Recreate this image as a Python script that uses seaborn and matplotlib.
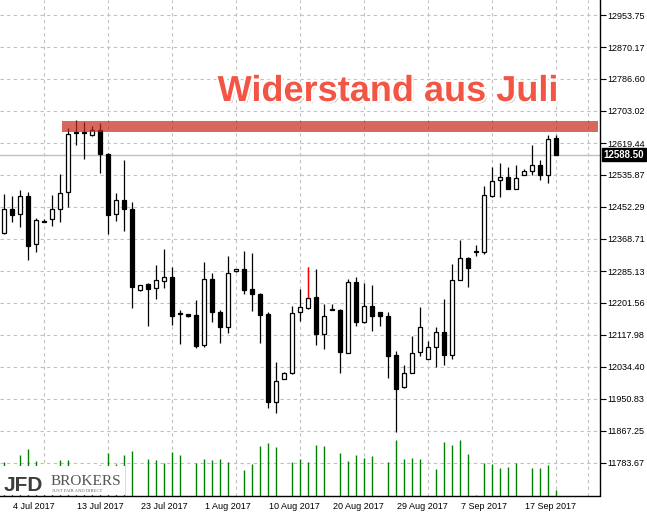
import matplotlib
matplotlib.use('Agg')
import matplotlib.pyplot as plt
import matplotlib.patheffects as pe
from matplotlib.patches import Rectangle
from matplotlib.lines import Line2D
from matplotlib.transforms import blended_transform_factory, ScaledTranslation
import seaborn as sns
import numpy as np

# daily candles 3 Jul - 21 Sep 2017, broker feed with Sunday bars
opens = [12385, 12446, 12433, 12480, 12355, 12417, 12420, 12446, 12491, 12647,
         12647, 12640, 12653, 12591, 12433, 12470, 12446, 12235, 12251, 12240,
         12260, 12269, 12175, 12173, 12170, 12091, 12263, 12178, 12138, 12284,
         12290, 12237, 12224, 12172, 11944, 12002, 12018, 12177, 12189, 12216,
         12121, 12186, 12183, 12072, 12256, 12153, 12193, 12177, 12167, 12066,
         11981, 12018, 12073, 12055, 12087, 12126, 12067, 12262, 12318, 12337,
         12336, 12482, 12522, 12530, 12500, 12535, 12547, 12562, 12535, 12632]
highs = [12486, 12481, 12496, 12491, 12423, 12420, 12484, 12539, 12658, 12679,
         12674, 12665, 12671, 12593, 12488, 12575, 12465, 12249, 12254, 12301,
         12343, 12296, 12183, 12174, 12209, 12309, 12280, 12183, 12324, 12290,
         12337, 12331, 12227, 12178, 12047, 12021, 12194, 12238, 12296, 12290,
         12198, 12198, 12186, 12264, 12269, 12254, 12248, 12178, 12177, 12076,
         12039, 12115, 12191, 12102, 12139, 12212, 12303, 12367, 12323, 12353,
         12507, 12557, 12567, 12557, 12562, 12551, 12615, 12575, 12640, 12640]
lows = [12383, 12414, 12401, 12315, 12336, 12413, 12403, 12414, 12453, 12614,
        12577, 12639, 12540, 12383, 12417, 12390, 12189, 12234, 12142, 12211,
        12242, 12145, 12095, 12164, 12085, 12086, 12153, 12098, 12124, 12283,
        12224, 12181, 12098, 11928, 11915, 12002, 12016, 12155, 12185, 12092,
        12081, 12182, 12020, 12071, 12142, 12149, 12128, 12142, 12006, 11865,
        11979, 12018, 12064, 12054, 12035, 12040, 12054, 12262, 12244, 12324,
        12330, 12479, 12479, 12498, 12500, 12535, 12535, 12524, 12516, 12587]
closes = [12446, 12432, 12481, 12351, 12418, 12414, 12446, 12488, 12642, 12645,
          12645, 12653, 12592, 12432, 12470, 12448, 12244, 12248, 12239, 12262,
          12269, 12168, 12172, 12168, 12090, 12263, 12177, 12140, 12279, 12290,
          12236, 12224, 12171, 11944, 11997, 12018, 12175, 12190, 12214, 12121,
          12167, 12183, 12074, 12256, 12153, 12193, 12168, 12168, 12064, 11978,
          12018, 12070, 12138, 12086, 12126, 12067, 12261, 12318, 12294, 12334,
          12483, 12519, 12530, 12500, 12527, 12546, 12561, 12537, 12629, 12588.5]
volumes = [34, 28, 41, 47, 35, 2, 27, 36, 36, 29,
           26, 3, 31, 43, 32, 41, 45, 0, 37, 36,
           33, 44, 41, 0, 33, 37, 36, 37, 34, 0,
           26, 32, 50, 53, 49, 0, 34, 37, 34, 51,
           50, 0, 43, 35, 41, 38, 40, 0, 34, 56,
           37, 38, 37, 0, 27, 54, 51, 56, 42, 1,
           33, 32, 28, 29, 33, 0, 28, 28, 31, 6]

date_idx = [1, 9, 17, 25, 33, 41, 49, 57, 65]
date_labels = ['4 Jul 2017', '13 Jul 2017', '23 Jul 2017', '1 Aug 2017', '10 Aug 2017',
               '20 Aug 2017', '29 Aug 2017', '7 Sep 2017', '17 Sep 2017']
price_ticks = [12953.75, 12870.17, 12786.60, 12703.02, 12619.44, 12535.87, 12452.29,
               12368.71, 12285.13, 12201.56, 12117.98, 12034.40, 11950.83, 11867.25, 11783.67]
last_price = 12588.50
resist_low, resist_high = 12647, 12678
resist_start = 7.25
resist_label = 'Widerstand aus Juli'
red_wick_idx = 38

sns.set_theme(style='white')
plt.rcParams['font.family'] = ['Liberation Sans', 'DejaVu Sans']

fig = plt.figure(figsize=(6.47, 5.17), dpi=100)
ax = fig.add_axes([0, 21.5 / 517, 600 / 647, 495.5 / 517])
ax2 = ax.twinx()  # volume overlay
ax.set_xlim(-0.5, 74.5)
ax.set_ylim(11698.78, 12992.93)

x = np.arange(len(opens))
o = np.array(opens, dtype=float)
c = np.array(closes, dtype=float)
up = c >= o
body_lo = np.minimum(o, c)
body_h = np.maximum(np.abs(c - o), 0.5)

# grid
grid_kw = dict(color='#c0c0c0', linestyle=(0, (3, 3)), linewidth=0.8)
ax.set_xticks(np.arange(1, 75, 4), minor=True)
ax.grid(which='minor', axis='x', **grid_kw)
ax.set_yticks(price_ticks)
ax.grid(which='major', axis='y', **grid_kw)
ax.set_axisbelow(True)

ax.axhline(last_price, color='#c0c0c0', lw=1, zorder=1)

# candles
ax.vlines(x, lows, highs, color='black', lw=0.9, zorder=3)
ax.vlines(red_wick_idx, max(o[red_wick_idx], c[red_wick_idx]), highs[red_wick_idx],
          color='red', lw=0.9, zorder=3.5)
ax.bar(x[up], body_h[up], bottom=body_lo[up], width=0.55, color='white',
       edgecolor='black', linewidth=0.9, zorder=4)
ax.bar(x[~up], body_h[~up], bottom=body_lo[~up], width=0.55, color='black',
       edgecolor='black', linewidth=0.9, zorder=4)

# resistance band + label
ax.fill_between([resist_start, 74.25], resist_low, resist_high, color='#c8261a',
                alpha=0.7, lw=0, zorder=5)
ax.text(48, 12754, resist_label, ha='center', va='center', fontsize=26,
        fontweight='bold', color='#f25544', zorder=6,
        path_effects=[pe.SimplePatchShadow(offset=(1.5, -1.5), shadow_rgbFace='#888888', alpha=0.5),
                      pe.Stroke(linewidth=3, foreground='white'), pe.Normal()])

# axes styling
sns.despine(ax=ax, left=True, top=True, right=False, bottom=False)
for side in ('right', 'bottom'):
    ax.spines[side].set_color('black')
    ax.spines[side].set_linewidth(1)
ax.yaxis.tick_right()
ax.set_yticklabels([f'{v:.2f}' for v in price_ticks])
ax.tick_params(axis='y', which='major', direction='out', length=4, width=0.8,
               color='black', labelsize=6.5, pad=1, labelcolor='black',
               left=False, labelleft=False, right=True, labelright=True)
ax.set_xticks(date_idx)
ax.set_xticklabels(date_labels, ha='left')
ax.tick_params(axis='x', which='major', direction='out', length=4, width=0.8,
               color='black', labelsize=6.5, pad=1, labelcolor='black')
ax.tick_params(axis='x', which='minor', length=0)
for lab in ax.get_xticklabels():
    lab.set_transform(lab.get_transform() + ScaledTranslation(1 / 100, 0, fig.dpi_scale_trans))

# last price marker
ax.text(1.006, last_price, f'{last_price:.2f}', transform=blended_transform_factory(ax.transAxes, ax.transData),
        color='white', fontsize=7, fontweight='bold', ha='left', va='center',
        bbox=dict(boxstyle='square,pad=0.15', fc='black', ec='black'), clip_on=False, zorder=10)

# volumes
ax2.vlines(x, 0, volumes, color='#008000', lw=1.0)
ax2.set_ylim(0, 495.5)
ax2.set_yticks([])
for s in ax2.spines.values():
    s.set_visible(False)

# broker logo
fig.patches.append(Rectangle((0, 1 - 494.5 / 517), 125 / 647, 29 / 517,
                             transform=fig.transFigure, fc='white', ec='none', zorder=2))
fig.text(4 / 647, 1 - 491 / 517, 'JFD', fontsize=15, fontweight='bold', color='#3d3d3d', zorder=3)
fig.add_artist(Line2D([47 / 647, 47 / 647], [1 - 490 / 517, 1 - 476 / 517], color='#909090', lw=1))
fig.text(51 / 647, 1 - 485 / 517, 'BROKERS', fontsize=11, color='#555555',
         family=['Liberation Serif', 'DejaVu Serif'], zorder=3)
fig.text(52 / 647, 1 - 492 / 517, 'JUST FAIR AND DIRECT', fontsize=3.3, color='#666666',
         family=['Liberation Serif', 'DejaVu Serif'], zorder=3)

fig.savefig('out.png', dpi=100)
